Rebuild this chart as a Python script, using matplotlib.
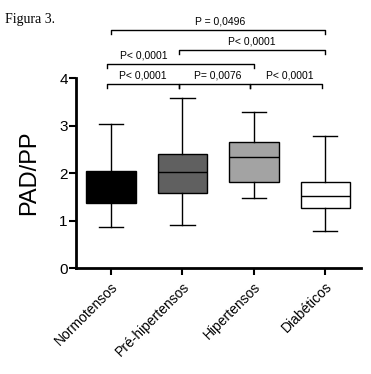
import matplotlib.pyplot as plt

# Data
groups = ['Normotensos', 'Pré-hipertensos', 'Hipertensos', 'Diabéticos']
whislo = [0.87, 0.90, 1.48, 0.79]
q1 = [1.37, 1.59, 1.82, 1.26]
med = [1.72, 2.02, 2.35, 1.51]
q3 = [2.05, 2.41, 2.66, 1.82]
whishi = [3.04, 3.58, 3.29, 2.79]
colors = ['#000000', '#606060', '#a3a3a3', '#ffffff']

# comparisons: (i, j, label)
comparisons = [(0, 1, 'P< 0,0001'), (1, 2, 'P= 0,0076'), (2, 3, 'P< 0,0001'),
               (0, 2, 'P< 0,0001'), (1, 3, 'P< 0,0001'), (0, 3, 'P = 0,0496')]
# bracket heights and label placement (layout)
heights = [3.87, 3.87, 3.87, 4.29, 4.59, 5.01]
label_dx = [0.0, 0.05, 0.05, -0.52, 0.0, 0.03]

plt.rcParams['font.family'] = ['Liberation Sans', 'DejaVu Sans']

fig = plt.figure(figsize=(3.71, 3.74), dpi=100)
ax = fig.add_axes([0.205, 0.283, 0.768, 0.508])

stats = []
for i in range(len(groups)):
    stats.append({'whislo': whislo[i], 'q1': q1[i], 'med': med[i],
                  'q3': q3[i], 'whishi': whishi[i], 'fliers': []})

bp = ax.bxp(stats, positions=range(len(groups)), widths=0.69, patch_artist=True,
            showfliers=False,
            boxprops=dict(edgecolor='black', linewidth=1),
            medianprops=dict(color='black', linewidth=1),
            whiskerprops=dict(color='black', linewidth=1),
            capprops=dict(color='black', linewidth=1), capwidths=0.34)
for patch, c in zip(bp['boxes'], colors):
    patch.set_facecolor(c)

ax.set_xlim(-0.49, 3.5)
ax.set_ylim(0, 4)
ax.set_yticks([0, 1, 2, 3, 4])
ax.set_xticks(range(len(groups)))
ax.set_xticklabels(groups, rotation=45, ha='right', rotation_mode='anchor', fontsize=10)
ax.tick_params(axis='y', labelsize=11, width=1.5, length=5, pad=1)
ax.tick_params(axis='x', width=1.5, length=5, pad=3)
for s in ['top', 'right']:
    ax.spines[s].set_visible(False)
for s in ['left', 'bottom']:
    ax.spines[s].set_linewidth(2)
ax.set_ylabel('PAD/PP', fontsize=17, labelpad=14)

for (i, j, label), h, dx in zip(comparisons, heights, label_dx):
    x0 = i - 0.05
    x1 = j - 0.05 if j - i == 1 else j
    if i == 0 and j == 3:
        x0 = i
    ax.plot([x0, x0, x1, x1], [h - 0.08, h, h, h - 0.08], color='black',
            linewidth=1, clip_on=False)
    ax.text((x0 + x1) / 2 + dx, h + 0.18, label, ha='center', va='center', fontsize=7.5)

fig.text(0.013, 0.965, 'Figura 3.', family='Liberation Serif', fontsize=10, va='top')

fig.savefig('out.png', dpi=100)
